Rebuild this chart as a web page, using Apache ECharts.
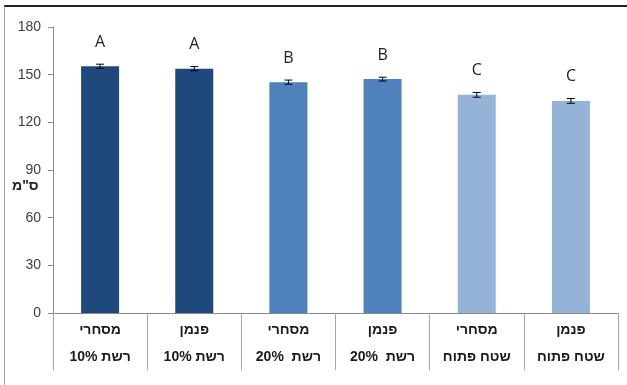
<!DOCTYPE html>
<html>
<head>
<meta charset="utf-8">
<script src="https://cdn.jsdelivr.net/npm/echarts@6/dist/echarts.min.js"></script>
<style>
  body { margin: 0; background: #fff; }
  #main { position: absolute; left: 0; top: 0; width: 627px; height: 385px; }
  #frame { position: absolute; left: 4px; top: 5px; width: 623px; height: 380px;
           border-top: 2px solid #222; border-left: 1px solid #a0a0a0; pointer-events: none; }
</style>
</head>
<body>
<div id="main"></div>
<div id="frame"></div>
<script>
// categories: [type, net], written so the canvas shows them like the picture
var kinds = ['מסחרי', 'פנמן', 'מסחרי', 'פנמן', 'מסחרי', 'פנמן'];
var nets = ['10% רשת', '10% רשת', '20%  רשת', '20%  רשת', 'שטח פתוח', 'שטח פתוח'];
var heights = [155.3, 153.8, 145.3, 147.2, 137.3, 133.5];
var errors = [1.3, 1.3, 1.3, 1.2, 1.5, 1.5];
var letters = ['A', 'A', 'B', 'B', 'C', 'C'];
var colors = ['#1f497d', '#1f497d', '#4f81bd', '#4f81bd', '#95b3d7', '#95b3d7'];
var yTicks = { min: 0, max: 180, step: 30 };

var cats = kinds.map(function (k, i) { return k + '\n' + nets[i]; });

var chart = echarts.init(document.getElementById('main'));
chart.setOption({
  animation: false,
  grid: { left: 53, right: 9, top: 27, bottom: 72 },
  graphic: [{
    type: 'text', left: 12, top: 179,
    style: { text: 'ס"מ', fontSize: 14, fontWeight: 'bold', fill: '#222',
             fontFamily: 'Liberation Sans, Arial, sans-serif' }
  }],
  xAxis: {
    type: 'category',
    data: cats,
    axisLine: { lineStyle: { color: '#8a8a8a' } },
    axisTick: { show: true, interval: 0, length: 57, lineStyle: { color: '#a6a6a6' } },
    axisLabel: {
      interval: 0, margin: 4, color: '#1a1a1a', fontSize: 14, fontWeight: 'bold',
      lineHeight: 27, fontFamily: 'Liberation Sans, Arial, sans-serif'
    }
  },
  yAxis: {
    type: 'value', min: yTicks.min, max: yTicks.max, interval: yTicks.step,
    splitLine: { show: false },
    axisLine: { show: true, lineStyle: { color: '#8a8a8a' } },
    axisTick: { show: true, length: 5, lineStyle: { color: '#8a8a8a' } },
    axisLabel: { color: '#404040', fontSize: 14, margin: 12,
                 fontFamily: 'Liberation Sans, Arial, sans-serif' }
  },
  series: [
    {
      type: 'bar',
      barWidth: 38,
      data: heights.map(function (v, i) {
        return { value: v, itemStyle: { color: colors[i] } };
      }),
      label: {
        show: true, position: 'top', distance: 16, fontSize: 16, color: '#222',
        fontFamily: 'Open Sans, sans-serif',
        formatter: function (p) { return letters[p.dataIndex]; }
      }
    },
    {
      type: 'custom',
      z: 5,
      data: heights.map(function (v, i) { return [i, v - errors[i], v + errors[i]]; }),
      renderItem: function (params, api) {
        var lo = api.coord([api.value(0), api.value(1)]);
        var hi = api.coord([api.value(0), api.value(2)]);
        var x = lo[0], w = 4;
        var st = { stroke: '#000', lineWidth: 1 };
        return { type: 'group', children: [
          { type: 'line', shape: { x1: x, y1: lo[1], x2: x, y2: hi[1] }, style: st },
          { type: 'line', shape: { x1: x - w, y1: lo[1], x2: x + w, y2: lo[1] }, style: st },
          { type: 'line', shape: { x1: x - w, y1: hi[1], x2: x + w, y2: hi[1] }, style: st }
        ] };
      }
    }
  ]
});
</script>
</body>
</html>
